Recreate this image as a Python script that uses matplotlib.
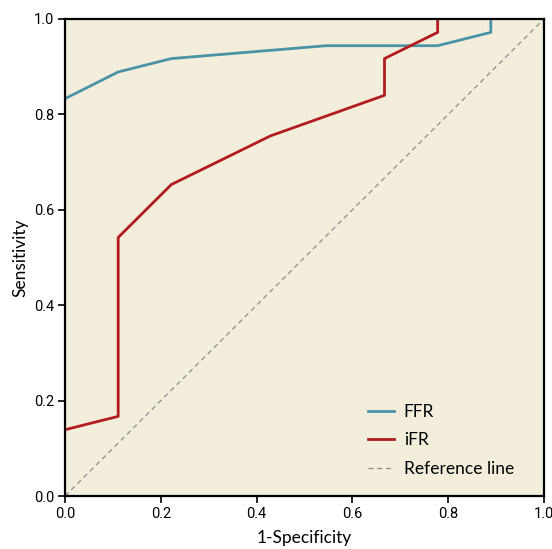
import matplotlib.pyplot as plt

# ROC curve points
ffr_x = [0.0, 0.111, 0.222, 0.545, 0.778, 0.889, 0.889]
ffr_y = [0.833, 0.889, 0.917, 0.944, 0.944, 0.972, 1.0]

ifr_x = [0.0, 0.111, 0.111, 0.222, 0.429, 0.667, 0.667, 0.778, 0.778]
ifr_y = [0.139, 0.167, 0.542, 0.653, 0.755, 0.840, 0.917, 0.972, 1.0]

ref_x = [0.0, 1.0]
ref_y = [0.0, 1.0]

ticks = [0.0, 0.2, 0.4, 0.6, 0.8, 1.0]
tick_labels = ["0.0", "0.2", "0.4", "0.6", "0.8", "1.0"]

fig = plt.figure(figsize=(5.52, 5.49), dpi=100)
ax = fig.add_axes([0.1178, 0.0965, 0.8677, 0.8689])
ax.set_facecolor('#f2eedb')

ax.plot(ffr_x, ffr_y, color='#4a93a8', linewidth=2, label='FFR')
ax.plot(ifr_x, ifr_y, color='#b31b1e', linewidth=2, label='iFR')
ax.plot(ref_x, ref_y, color='#8c8c8c', linewidth=0.9, linestyle=(0, (4, 3)),
        label='Reference line')

ax.set_xlim(0, 1)
ax.set_ylim(0, 1)
ax.set_xticks(ticks)
ax.set_yticks(ticks)
ax.set_xticklabels(tick_labels, family='Roboto', fontsize=10.5)
ax.set_yticklabels(tick_labels, family='Roboto', fontsize=10.5)
ax.tick_params(direction='out', length=5, width=1.2, color='black', pad=3)

for s in ax.spines.values():
    s.set_linewidth(1.6)
    s.set_color('black')

ax.set_xlabel('1-Specificity', fontsize=12.5, family='Lato', labelpad=6.5)
ax.set_ylabel('Sensitivity', fontsize=12.5, family='Lato', labelpad=4)

leg = ax.legend(loc='lower right', bbox_to_anchor=(0.97, 0.008), frameon=False,
                prop={'family': 'Lato', 'size': 12.5}, handlelength=1.5,
                handletextpad=0.55, labelspacing=0.7)

fig.savefig('out.png', dpi=100)
